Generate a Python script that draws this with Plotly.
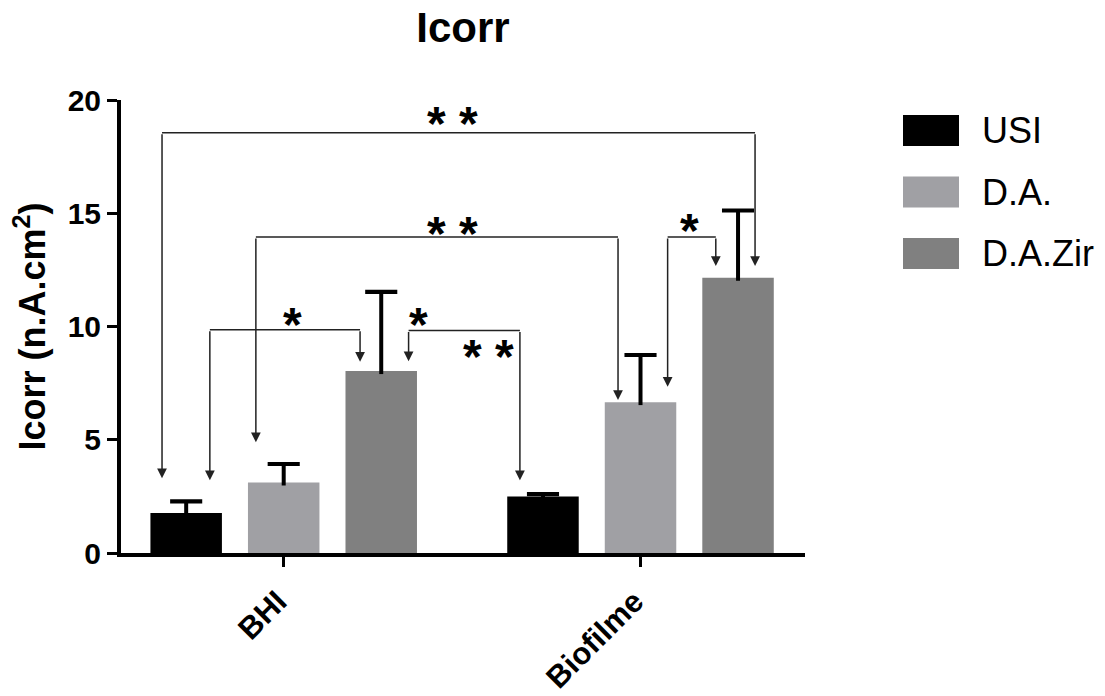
import plotly.graph_objects as go

# ---------------- data ----------------
categories = ["BHI", "Biofilme"]
series_names = ["USI", "D.A.", "D.A.Zir"]
usi_values = [1.77, 2.50]
usi_errors = [0.51, 0.10]
da_values = [3.11, 6.66]
da_errors = [0.82, 2.08]
dazir_values = [8.03, 12.15]
dazir_errors = [3.50, 2.97]
colors = ["#000000", "#a0a0a4", "#808080"]

# significance brackets (data units): left x, right x, top y, tip y left, tip y right
bracket_x0 = [-0.341, -0.078, -0.207, 0.350, 1.076]
bracket_x1 = [1.321, 0.937, 0.214, 0.662, 1.211]
bracket_top = [18.55, 13.95, 9.86, 9.82, 13.95]
bracket_tip0 = [3.30, 4.89, 3.21, 8.47, 7.34]
bracket_tip1 = [12.67, 6.75, 8.44, 3.21, 12.67]

# star labels (data units)
star_text = ["* *", "* *", "*", "*", "* *", "*"]
star_x = [0.473, 0.473, 0.026, 0.379, 0.574, 1.138]
star_y = [19.30, 14.48, 10.46, 10.42, 9.05, 14.57]

FONT = "Arial, Liberation Sans, sans-serif"

W, H = 1105, 696
L, R, T, B = 121, 805, 100, 553  # plot area in px

CAP_T = 0.18       # error cap thickness (data units)
CAP_W = 0.09       # error cap width (category units)
STEM_INSET = 0.13  # stem reaches slightly into the bar

fig = go.Figure()
all_vals = [usi_values, da_values, dazir_values]
all_errs = [usi_errors, da_errors, dazir_errors]
for name, vals, errs, col in zip(series_names, all_vals, all_errs, colors):
    fig.add_bar(
        x=categories, y=vals, name=name, marker_color=col,
        marker_line_width=0, showlegend=False, offsetgroup=name,
        error_y=dict(type="data", symmetric=False, array=errs,
                     arrayminus=[STEM_INSET] * len(errs), color="black",
                     thickness=4, width=0),
    )
for name, vals, errs in zip(series_names, all_vals, all_errs):
    fig.add_bar(
        x=categories, y=[CAP_T] * len(vals),
        base=[v + e - CAP_T / 2 for v, e in zip(vals, errs)],
        width=CAP_W, marker_color="black", marker_line_width=0,
        showlegend=False, offsetgroup=name, hoverinfo="skip",
    )

shapes = []
annotations = []
LC = "#222222"
for x0, x1, yt, t0, t1 in zip(bracket_x0, bracket_x1, bracket_top, bracket_tip0, bracket_tip1):
    shapes.append(dict(type="line", xref="x", yref="y", x0=x0, x1=x1, y0=yt, y1=yt,
                       line=dict(color=LC, width=1.5)))
    for xx, tip in ((x0, t0), (x1, t1)):
        annotations.append(dict(x=xx, y=tip, ax=xx, ay=yt, xref="x", yref="y",
                                axref="x", ayref="y", text="", showarrow=True,
                                arrowhead=2, arrowsize=1.3, arrowwidth=1.5,
                                arrowcolor=LC, standoff=0))

for t, x, y in zip(star_text, star_x, star_y):
    annotations.append(dict(x=x, y=y, xref="x", yref="y", text="<b>" + t + "</b>",
                            showarrow=False,
                            font=dict(family=FONT, size=48, color="black"),
                            xanchor="center", yanchor="middle", yshift=-8))

# manual legend
def px2paper_x(px):
    return (px - L) / (R - L)

def px2paper_y(py):
    return (B - py) / (B - T)

leg_rows = [130.5, 192, 253.5]
for name, col, cy in zip(series_names, colors, leg_rows):
    shapes.append(dict(type="rect", xref="paper", yref="paper",
                       x0=px2paper_x(903), x1=px2paper_x(959),
                       y0=px2paper_y(cy + 15.5), y1=px2paper_y(cy - 15.5),
                       fillcolor=col, line=dict(width=0)))
    annotations.append(dict(x=px2paper_x(980), y=px2paper_y(cy), xref="paper", yref="paper",
                            text=name, showarrow=False, xanchor="left", yanchor="middle",
                            font=dict(family=FONT, size=36, color="black")))

fig.update_layout(
    width=W, height=H,
    margin=dict(l=L, r=W - R, t=T, b=H - B, pad=0, autoexpand=False),
    paper_bgcolor="white", plot_bgcolor="white",
    barmode="group", bargap=0.18, bargroupgap=0.267,
    title=dict(text="<b>Icorr</b>", x=0.5, xref="paper", xanchor="center",
               y=1 - 27 / H, yref="container", yanchor="middle",
               font=dict(family=FONT, size=42, color="black")),
    shapes=shapes, annotations=annotations,
    xaxis=dict(type="category", range=[-0.456, 1.461], showline=True, linewidth=4,
               linecolor="black", ticks="outside", ticklen=10, tickwidth=3,
               tickcolor="black", tickangle=-45, showgrid=False, zeroline=False,
               ticklabelstandoff=4, ticklabelshift=-6, automargin=False,
               tickfont=dict(family=FONT, size=31, color="black", weight="bold")),
    yaxis=dict(range=[0, 20], tickvals=[0, 5, 10, 15, 20], showline=True, linewidth=4,
               linecolor="black", ticks="outside", ticklen=10, tickwidth=3,
               tickcolor="black", showgrid=False, zeroline=False, automargin=False,
               tickfont=dict(family=FONT, size=30, color="black", weight="bold"),
               title=dict(text="<b>Icorr (n.A.cm<sup>2</sup>)</b>", standoff=12,
                          font=dict(family=FONT, size=36, color="black"))),
)

fig.write_html("out.html")
